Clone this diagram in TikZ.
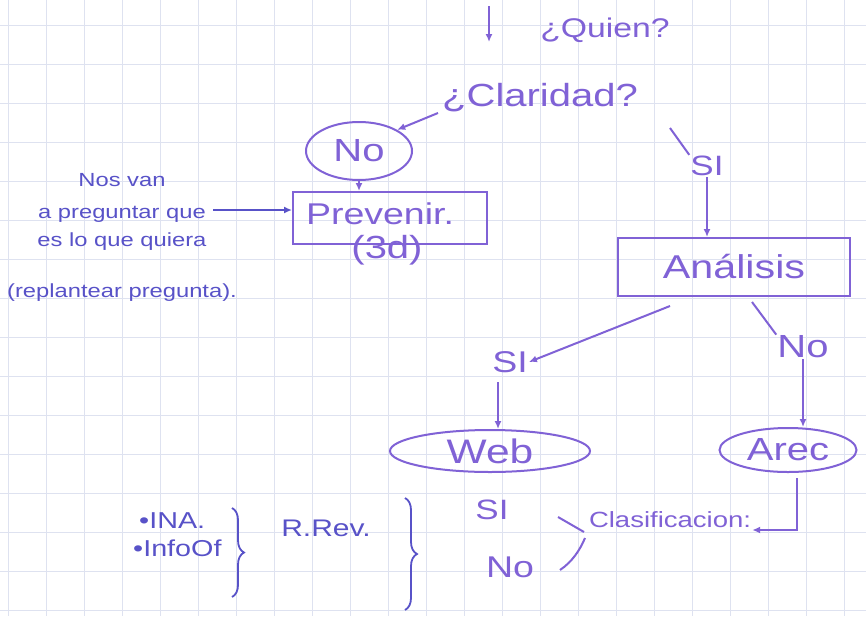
\documentclass[tikz,border=0pt]{standalone}
\usepackage{fontspec}
\setmainfont{Liberation Sans}
\newfontfamily\hand[FakeStretch=1.25]{Liberation Sans}
\usetikzlibrary{arrows.meta,shapes.geometric,decorations.pathreplacing}
\definecolor{pen}{RGB}{128,98,214}
\definecolor{ink}{RGB}{88,82,200}
\definecolor{gridc}{RGB}{222,226,240}
\newcommand{\fs}[1]{\hand\fontsize{#1}{#1}\selectfont}
\tikzset{
  lbl/.style={text=pen,inner sep=1pt},
  note/.style={text=ink,inner sep=1pt,align=center},
  oval/.style={draw=pen,line width=2pt,ellipse,text=pen,inner sep=0pt},
  boxn/.style={draw=pen,line width=2pt,text=pen,inner sep=0pt},
  conn/.style={draw=pen,line width=2pt,-{Latex[length=8pt,width=7pt]}},
  plain/.style={draw=pen,line width=2pt},
  brc/.style={draw=ink,line width=1.8pt,decorate,decoration={brace,amplitude=12pt}}
}
\begin{document}
\begin{tikzpicture}[x=1pt,y=-1pt]
\fill[white] (0,0) rectangle (866,616);
\useasboundingbox (0,0) rectangle (866,616);
% paper grid
\foreach \gx in {8,46,84,122,160,198,236,274,312,350,388,426,464,502,540,578,616,654,692,730,768,806,844}
  \draw[gridc,line width=0.6pt] (\gx,0) -- (\gx,616);
\foreach \gy in {25,64,103,142,181,220,259,298,337,376,415,454,493,532,571,610}
  \draw[gridc,line width=0.6pt] (0,\gy) -- (866,\gy);

% top
\coordinate (top) at (489,6);
\node[lbl,font=\fs{27}] (quien) at (605,30) {¿Quien?};
\node[lbl,font=\fs{32}] (clar) at (540,98) {¿Claridad?};
\draw[conn] (top) -- (489,42);

% No branch
\node[oval,font=\fs{32},minimum width=106pt,minimum height=58pt] (no1) at (359,151) {No};
\coordinate (c1) at (438,113);
\draw[conn] (c1) -- (no1.north east);
\node[boxn,minimum width=194pt,minimum height=52pt] (prev) at (390,218) {};
\node[lbl,font=\fs{30}] (prevt) at (380,214) {Prevenir.};
\node[lbl,font=\fs{32}] (tresd) at (387,250) {(3d)};
\draw[conn] (no1.south) -- (prev.north -| no1.south);

% note
\node[note,font=\fs{19},anchor=north] (nota) at (122,172) {Nos van\\[13pt]a preguntar que\\[9pt]es lo que quiera\\[32pt](replantear pregunta).};
\coordinate (na) at (213,210);
\draw[draw=ink,line width=1.8pt,-{Latex[length=8pt,width=7pt]}] (na) -- (prev.west |- na);

% SI branch right
\node[lbl,font=\fs{28}] (si1) at (707,166) {SI};
\draw[plain] (670,128) -- (si1.north west);
\node[boxn,font=\fs{33},minimum width=232pt,minimum height=58pt] (anal) at (734,267) {Análisis};
\draw[conn] (si1.south) -- (anal.north -| si1.south);

% from Analisis
\node[lbl,font=\fs{30}] (si2) at (510,362) {SI};
\node[lbl,font=\fs{32}] (no2) at (803,347) {No};
\draw[conn] (670,306) -- (si2.east);
\draw[plain] (752,302) -- (no2.north west);
\node[oval,font=\fs{34},minimum width=200pt,minimum height=42pt] (web) at (490,451) {Web};
\node[oval,font=\fs{32},minimum width=137pt,minimum height=44pt] (arec) at (788,450) {Arec};
\coordinate (s2b) at (498,382);
\draw[conn] (s2b) -- (web.north -| s2b);
\draw[conn] (no2.south) -- (arec.north -| no2.south);

% Clasificacion
\node[lbl,font=\fs{22}] (clas) at (670,520) {Clasificacion:};
\coordinate (ab) at (797,478);
\draw[conn] (ab) -- (797,530) -- (clas.east |- 0,530);
\node[lbl,font=\fs{28}] (si3) at (492,510) {SI};
\node[lbl,font=\fs{30}] (no3) at (510,567) {No};
\draw[plain] (558,517) -- (584,532);
\draw[plain] (560,570) .. controls (572,562) and (580,550) .. (585,538);

% bottom left
\node[note,font=\fs{23},anchor=west] (ina) at (138,521) {•INA.};
\node[note,font=\fs{23},anchor=west] (info) at (132,548) {•InfoOf};
\draw[brc] (232,508) -- (232,597);
\node[note,font=\fs{24}] (rrev) at (326,528) {R.Rev.};
\draw[brc] (405,498) -- (405,610);
\end{tikzpicture}
\end{document}
